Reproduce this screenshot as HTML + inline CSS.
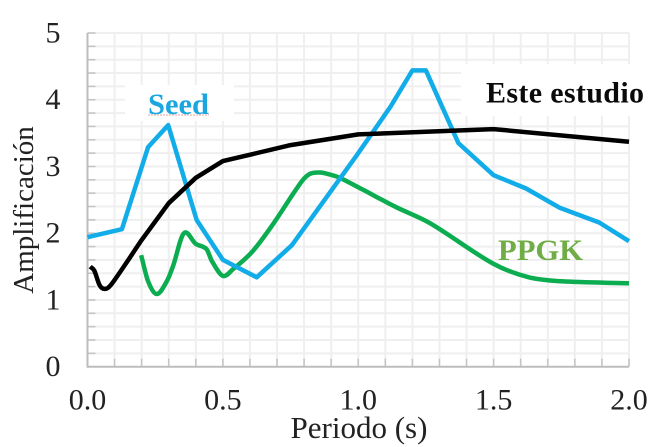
<!DOCTYPE html>
<html>
<head>
<meta charset="utf-8">
<style>
html,body{margin:0;padding:0;background:#fff;width:659px;height:447px;overflow:hidden}
svg{display:block}
text{font-family:"Liberation Serif",serif}
</style>
</head>
<body>
<svg id="chart" width="659" height="447" viewBox="0 0 659 447">
  <g id="grid"></g>
  <rect x="125" y="85" width="109" height="36" fill="#fff"/>
  <rect x="461" y="64" width="180" height="52" fill="#fff"/>
  <g id="axes"></g>
  <g id="series"></g>
  <text x="148" y="114" font-size="30" font-weight="bold" fill="#1aa7e0" textLength="61" lengthAdjust="spacingAndGlyphs">Seed</text>
  <line x1="148" y1="115" x2="209" y2="115" stroke="#e8a0a0" stroke-width="1" stroke-dasharray="2 1"/>
  <text x="486" y="102.5" font-size="30" font-weight="bold" fill="#0a0a0a" textLength="158" lengthAdjust="spacing">Este estudio</text>
  <text x="498" y="260" font-size="30" font-weight="bold" fill="#70ad47" textLength="85" lengthAdjust="spacingAndGlyphs">PPGK</text>
  <text x="359" y="438" font-size="31" text-anchor="middle" fill="#222">Periodo (s)</text>
  <text transform="translate(33,210) rotate(-90)" font-size="29" text-anchor="middle" fill="#222">Amplificación</text>
</svg>
<script>
const xTickLabels = ['0.0', '0.5', '1.0', '1.5', '2.0'];
const yTickLabels = ['0', '1', '2', '3', '4', '5'];

const blackPeriods = [0.01, 0.025, 0.046, 0.07, 0.095, 0.2, 0.3, 0.4, 0.5, 0.75, 1.0, 1.5, 2.0];
const blackValues = [1.5, 1.44, 1.21, 1.17, 1.27, 1.9, 2.45, 2.83, 3.08, 3.32, 3.48, 3.56, 3.37];

const seedPeriods = [0, 0.127, 0.224, 0.298, 0.403, 0.5, 0.625, 0.755, 0.995, 1.12, 1.2, 1.25, 1.37, 1.5, 1.62, 1.745, 1.89, 2.0];
const seedValues = [1.94, 2.06, 3.29, 3.62, 2.2, 1.6, 1.34, 1.82, 3.17, 3.9, 4.44, 4.44, 3.35, 2.87, 2.67, 2.38, 2.16, 1.88];

const ppgkPeriods = [0.198, 0.224, 0.256, 0.293, 0.316, 0.356, 0.4, 0.44, 0.46, 0.5, 0.537, 0.61, 0.686, 0.79, 0.822, 0.859, 0.895, 0.932, 1.018, 1.14, 1.265, 1.5, 1.63, 1.75, 2.0];
const ppgkValues = [1.67, 1.28, 1.09, 1.28, 1.51, 2.0, 1.84, 1.76, 1.58, 1.36, 1.46, 1.73, 2.14, 2.77, 2.89, 2.91, 2.88, 2.83, 2.65, 2.39, 2.15, 1.54, 1.34, 1.28, 1.25];

const blackSmoothCount = 6;

const NS = 'http://www.w3.org/2000/svg';
const plotLeft = 87.5, plotRight = 629, plotTop = 33, plotBottom = 366.7;
const xMax = 2, yMax = 5;
function xScale(v) { return plotLeft + (v / xMax) * (plotRight - plotLeft); }
function yScale(v) { return plotBottom - (v / yMax) * (plotBottom - plotTop); }

function make(tag, attrs, parent) {
  const el = document.createElementNS(NS, tag);
  for (const k in attrs) el.setAttribute(k, attrs[k]);
  parent.appendChild(el);
  return el;
}

const grid = document.getElementById('grid');
const axes = document.getElementById('axes');
const series = document.getElementById('series');
const svg = document.getElementById('chart');

for (let i = 1; i <= 20; i++) {
  const x = xScale(i / 10);
  const gl = make('line', {x1: x, x2: x, y1: plotTop, y2: plotBottom, stroke: '#efefef', 'stroke-width': 2}, grid);
  
  
}
for (let i = 1; i <= 25; i++) {
  const y = yScale(i / 5);
  const gl = make('line', {x1: plotLeft, x2: plotRight, y1: y, y2: y, stroke: '#efefef', 'stroke-width': 2}, grid);
  
  
}

for (let i = 1; i <= 25; i++) {
  const y = yScale(i / 5);
  const t = make('line', {x1: plotLeft, x2: plotLeft + 8, y1: y, y2: y, stroke: '#c4c4c4', 'stroke-width': 1.5}, axes);
  
  
}
for (let i = 1; i <= 20; i++) {
  const x = xScale(i / 10);
  const t = make('line', {x1: x, x2: x, y1: plotBottom, y2: plotBottom - 8, stroke: '#c4c4c4', 'stroke-width': 1.5}, axes);
  
  
}
const yAxisLine = make('line', {x1: plotLeft, x2: plotLeft, y1: plotTop, y2: plotBottom + 1, stroke: '#bdbdbd', 'stroke-width': 2}, axes);


const xAxisLine = make('line', {x1: plotLeft, x2: plotRight, y1: plotBottom, y2: plotBottom, stroke: '#bdbdbd', 'stroke-width': 2}, axes);



xTickLabels.forEach(function (label) {
  const t = make('text', {x: xScale(parseFloat(label)), y: 409.5, 'font-size': 30, 'text-anchor': 'middle', fill: '#222'}, svg);
  t.textContent = label;
  
  
});
yTickLabels.forEach(function (label) {
  const t = make('text', {x: 53, y: yScale(parseFloat(label)) + 9.5, 'font-size': 30, 'text-anchor': 'middle', fill: '#222'}, svg);
  t.textContent = label;
  
  
});

function straightPath(xs, ys) {
  return xs.map(function (v, i) {
    return (i ? 'L' : 'M') + xScale(v).toFixed(1) + ' ' + yScale(ys[i]).toFixed(1);
  }).join(' ');
}
function smoothPath(xs, ys) {
  const p = xs.map(function (v, i) { return [xScale(v), yScale(ys[i])]; });
  function slope(i) {
    const a = p[Math.max(i - 1, 0)], c = p[Math.min(i + 1, p.length - 1)];
    return (c[1] - a[1]) / (c[0] - a[0]);
  }
  let d = 'M' + p[0][0].toFixed(1) + ' ' + p[0][1].toFixed(1);
  for (let i = 0; i < p.length - 1; i++) {
    const b = p[i], c = p[i + 1], h = (c[0] - b[0]) / 3;
    d += ' C' + (b[0] + h).toFixed(1) + ' ' + (b[1] + slope(i) * h).toFixed(1) + ' ' +
      (c[0] - h).toFixed(1) + ' ' + (c[1] - slope(i + 1) * h).toFixed(1) + ' ' +
      c[0].toFixed(1) + ' ' + c[1].toFixed(1);
  }
  return d;
}
function blackPath() {
  let d = smoothPath(blackPeriods.slice(0, blackSmoothCount), blackValues.slice(0, blackSmoothCount));
  for (let i = blackSmoothCount; i < blackPeriods.length; i++) {
    d += ' L' + xScale(blackPeriods[i]).toFixed(1) + ' ' + yScale(blackValues[i]).toFixed(1);
  }
  return d;
}

const ppgkLine = make('path', {d: smoothPath(ppgkPeriods, ppgkValues), fill: 'none', stroke: '#0bad50', 'stroke-width': 4.5, 'stroke-linejoin': 'round'}, series);


const seedLine = make('path', {d: straightPath(seedPeriods, seedValues), fill: 'none', stroke: '#12ace8', 'stroke-width': 4.5, 'stroke-linejoin': 'round'}, series);


const blackLine = make('path', {d: blackPath(), fill: 'none', stroke: '#000', 'stroke-width': 4.5, 'stroke-linejoin': 'round'}, series);


</script>
</body>
</html>
